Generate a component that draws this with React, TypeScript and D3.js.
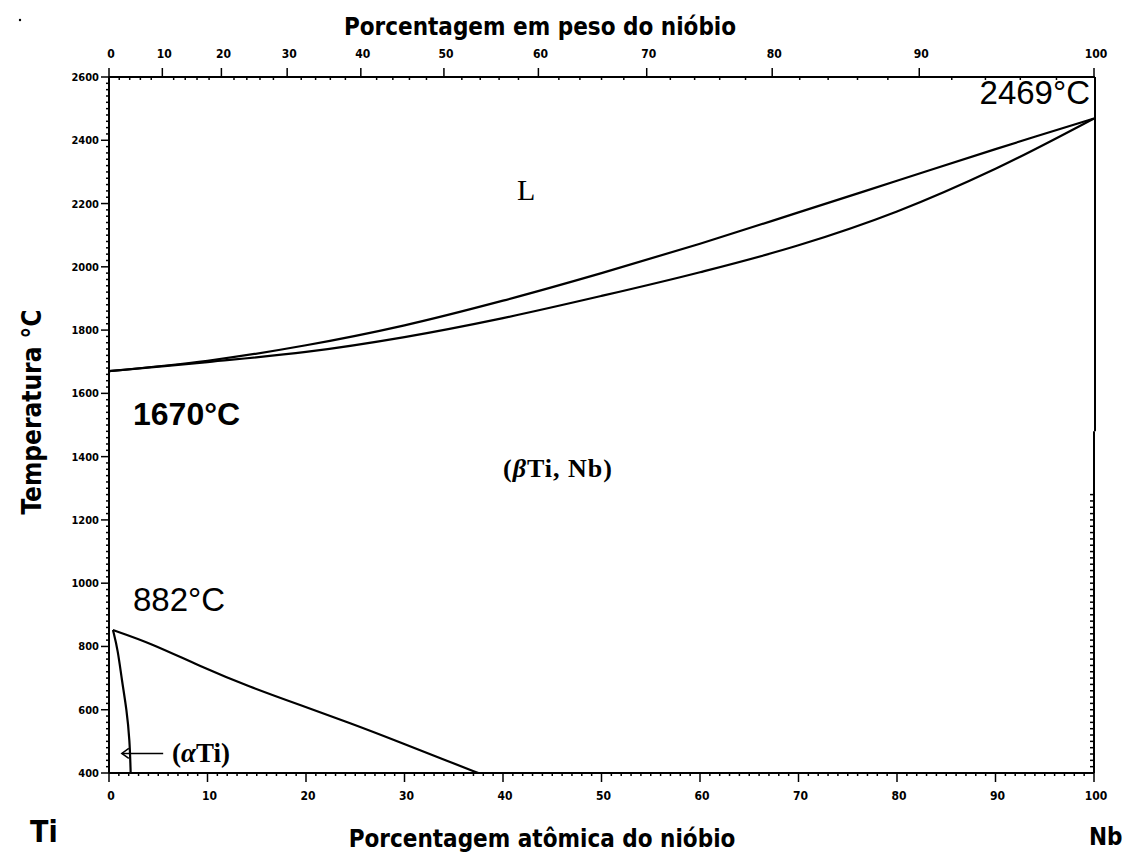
import React from "react";
import * as d3 from "d3";

// Atomic percent Nb (bottom axis) vs temperature (°C)
const liquidusAt = [0, 10, 20, 30, 40, 50, 60, 70, 80, 90, 100];
const liquidusT = [1670, 1703, 1752, 1815, 1893, 1980, 2073, 2172, 2272, 2372, 2469];
const solidusAt = [0, 10, 20, 30, 40, 50, 60, 70, 80, 90, 100];
const solidusT = [1670, 1699, 1731, 1778, 1838, 1908, 1983, 2068, 2175, 2310, 2469];
const transusAt = [0.4, 4.2, 9.2, 14.3, 19.4, 24.5, 29.5, 34.6, 37.5];
const transusT = [852, 811, 738, 672, 615, 558, 498, 435, 400];
const alphaAt = [0.4, 0.9, 1.3, 1.8, 2.1, 2.2];
const alphaT = [852, 789, 694, 599, 504, 400];

const tempTicks = [400, 600, 800, 1000, 1200, 1400, 1600, 1800, 2000, 2200, 2400, 2600];
const atomicTicks = [0, 10, 20, 30, 40, 50, 60, 70, 80, 90, 100];
const weightTicks = [0, 10, 20, 30, 40, 50, 60, 70, 80, 90, 100];

const M_TI = 47.867;
const M_NB = 92.906;
const wtToAt = (w: number) => {
  if (w <= 0) return 0;
  if (w >= 100) return 100;
  const nb = w / M_NB;
  const ti = (100 - w) / M_TI;
  return (100 * nb) / (nb + ti);
};

const W = 1136;
const H = 852;
const x = d3.scaleLinear().domain([0, 100]).range([109, 1094]);
const y = d3.scaleLinear().domain([400, 2600]).range([773, 77]);

const condensed = "'Liberation Sans Narrow', 'DejaVu Sans Condensed', Arial, sans-serif";
const serif = "'Liberation Serif', 'DejaVu Serif', serif";
const sans = "'Liberation Sans', Arial, sans-serif";

export default function App() {
  const lineXY = d3
    .line<[number, number]>()
    .x((d) => x(d[0]))
    .y((d) => y(d[1]))
    .curve(d3.curveCatmullRom.alpha(0.5));
  const lineSmooth = d3
    .line<[number, number]>()
    .x((d) => x(d[0]))
    .y((d) => y(d[1]))
    .curve(d3.curveBasis);

  const liq = liquidusAt.map((a, i) => [a, liquidusT[i]] as [number, number]);
  const sol = solidusAt.map((a, i) => [a, solidusT[i]] as [number, number]);
  const tr = transusAt.map((a, i) => [a, transusT[i]] as [number, number]);
  const al = alphaAt.map((a, i) => [a, alphaT[i]] as [number, number]);

  const minorT = d3.range(400, 2601, 20).filter((t) => t % 200 !== 0);
  const minorRightT = d3.range(400, 1281, 20);
  const minorAt = d3.range(0, 101, 1).filter((a) => a % 10 !== 0);
  const minorWt = d3.range(0, 101, 2).filter((w) => w % 10 !== 0);

  const x0 = x(0);
  const x1 = x(100);
  const yTop = y(2600);
  const yBot = y(400);

  return (
    <svg
      width={W}
      height={H}
      style={{ position: "absolute", left: 0, top: 0, background: "#fff" }}
    >
      <rect x={0} y={0} width={W} height={H} fill="#fff" />
      {/* frame */}
      <g stroke="#000" strokeWidth={2} fill="none">
        <line x1={x0} y1={yTop} x2={x0} y2={yBot} />
        <line x1={x0} y1={yBot} x2={x1} y2={yBot} />
        <line x1={x0} y1={yTop} x2={x1 + 1} y2={yTop} />
        <line x1={x1 + 1} y1={yTop} x2={x1 + 1} y2={y(1480)} />
        <line x1={x1} y1={y(1480)} x2={x1} y2={yBot} />
      </g>

      {/* left axis ticks */}
      <g stroke="#000" strokeWidth={1.5}>
        {tempTicks.map((t) => (
          <line key={"lt" + t} x1={x0 - 8} x2={x0} y1={y(t)} y2={y(t)} />
        ))}
        {minorT.map((t) => (
          <line key={"lm" + t} x1={x0 - 3} x2={x0} y1={y(t)} y2={y(t)} />
        ))}
        {minorRightT.map((t) => (
          <line key={"rm" + t} x1={x1 - 4} x2={x1} y1={y(t)} y2={y(t)} />
        ))}
      </g>
      <g fontFamily={condensed} fontWeight="bold" fontSize={11} textAnchor="end">
        {tempTicks.map((t) => (
          <text key={"ll" + t} x={x0 - 10} y={y(t) + 4}>
            {t}
          </text>
        ))}
      </g>

      {/* bottom axis ticks */}
      <g stroke="#000" strokeWidth={1.5}>
        {atomicTicks.map((a) => (
          <line key={"bt" + a} x1={x(a)} x2={x(a)} y1={yBot} y2={yBot + 9} />
        ))}
        {minorAt.map((a) => (
          <line key={"bm" + a} x1={x(a)} x2={x(a)} y1={yBot} y2={yBot + 3} />
        ))}
      </g>
      <g fontFamily={condensed} fontWeight="bold" fontSize={12} textAnchor="middle">
        {atomicTicks.map((a) => (
          <text key={"bl" + a} x={x(a) + 2} y={yBot + 27}>
            {a}
          </text>
        ))}
      </g>

      {/* top axis (weight percent) */}
      <g stroke="#000" strokeWidth={1.5}>
        {weightTicks.map((w) => (
          <line key={"tt" + w} x1={x(wtToAt(w))} x2={x(wtToAt(w))} y1={yTop} y2={yTop - 9} />
        ))}
        {minorWt.map((w) => (
          <line key={"tm" + w} x1={x(wtToAt(w))} x2={x(wtToAt(w))} y1={yTop} y2={yTop + 3} />
        ))}
      </g>
      <g fontFamily={condensed} fontWeight="bold" fontSize={12} textAnchor="middle">
        {weightTicks.map((w) => (
          <text key={"tl" + w} x={x(wtToAt(w)) + 2} y={yTop - 19}>
            {w}
          </text>
        ))}
      </g>

      {/* phase boundaries */}
      <g stroke="#000" strokeWidth={2.2} fill="none">
        <path d={lineXY(liq) || ""} />
        <path d={lineXY(sol) || ""} />
        <path d={lineSmooth(tr) || ""} />
        <path d={lineSmooth(al) || ""} />
      </g>

      {/* (αTi) arrow */}
      <g stroke="#000" strokeWidth={1.5} fill="none">
        <line x1={x(1.3)} y1={y(462)} x2={x(5.5)} y2={y(462)} />
        <path d={`M${x(1.3) + 7},${y(462) - 5} L${x(1.3)},${y(462)} L${x(1.3) + 7},${y(462) + 5}`} />
      </g>
      <text x={x(6.4)} y={y(462) + 9} fontFamily={serif} fontSize={27} fontWeight="bold">
        (<tspan fontStyle="italic">α</tspan>Ti)
      </text>

      {/* annotations */}
      <text x={x(100) - 4} y={104} fontFamily={sans} fontSize={33} textAnchor="end">
        2469°C
      </text>
      <text x={133} y={425} fontFamily={sans} fontWeight="bold" fontSize={32}>
        1670°C
      </text>
      <text x={133} y={611} fontFamily={sans} fontSize={33}>
        882°C
      </text>
      <text x={517} y={200} fontFamily={serif} fontSize={30}>
        L
      </text>
      <text
        x={558}
        y={477}
        fontFamily={serif}
        fontSize={26}
        fontWeight="bold"
        textAnchor="middle"
        letterSpacing={1}
      >
        (<tspan fontStyle="italic">β</tspan>Ti,  Nb)
      </text>

      {/* axis titles */}
      <text
        x={540}
        y={35}
        fontFamily={condensed}
        fontWeight="bold"
        fontSize={24}
        textAnchor="middle"
      >
        Porcentagem em peso do nióbio
      </text>
      <text
        x={542}
        y={847}
        fontFamily={condensed}
        fontWeight="bold"
        fontSize={24}
        textAnchor="middle"
      >
        Porcentagem atômica do nióbio
      </text>
      <text
        transform={`translate(41, 412) rotate(-90)`}
        fontFamily={condensed}
        fontWeight="bold"
        fontSize={26}
        textAnchor="middle"
      >
        Temperatura °C
      </text>
      <text x={30} y={842} fontFamily={condensed} fontWeight="bold" fontSize={30}>
        Ti
      </text>
      <text x={1089} y={845} fontFamily={condensed} fontWeight="bold" fontSize={24}>
        Nb
      </text>
      <circle cx={20} cy={20} r={1.2} fill="#000" />
    </svg>
  );
}
